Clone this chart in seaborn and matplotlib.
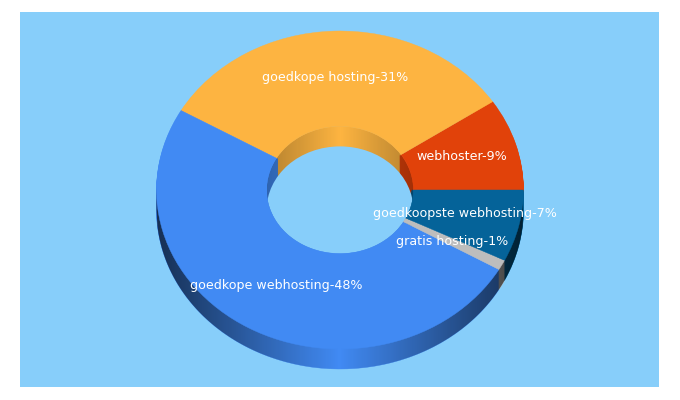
import numpy as np
import matplotlib
matplotlib.use("Agg")
import matplotlib.pyplot as plt
from matplotlib.patches import Ellipse, Polygon
import seaborn as sns

# --- data -----------------------------------------------------------------
categories = ["webhoster", "goedkope hosting", "goedkope webhosting",
              "gratis hosting", "goedkoopste webhosting"]
shares = [9, 31, 48, 1, 7]
slice_colors = ["#E1420A", "#FDB441", "#418AF3", "#BDBDBD", "#056399"]
# label anchor in reference pixels (centre x, centre y)
label_x = [461.5, 335.5, 276, 452.5, 465]
label_y = [156, 77, 285, 241, 214]

# --- geometry (reference pixels) --------------------------------------------
W, H = 680, 400
PLOT_L, PLOT_R, PLOT_T, PLOT_B = 20, 659, 12, 387
CX, CY, RX, RY = 340, 190, 183.5, 159
DEPTH = 20
HOLE = 0.40
BG = "#87CEFA"

sns.set_theme(style="white")
palette = sns.color_palette(slice_colors)

fig = plt.figure(figsize=(W / 100, H / 100), dpi=100, facecolor="white")
ax = fig.add_axes([PLOT_L / W, 1 - PLOT_B / H, (PLOT_R - PLOT_L) / W, (PLOT_B - PLOT_T) / H])


def px_x(x):
    return (x - CX) / RX


def px_y(y):
    return (CY - y) / RY


depth_u = DEPTH / RY


def draw_pie(radius, width, dy, zorder):
    wedges, _ = ax.pie(shares, colors=palette, radius=radius, center=(0, dy), startangle=0,
                       counterclock=True, frame=True,
                       wedgeprops=dict(width=width, zorder=zorder))
    for w in wedges:
        w.set_edgecolor(w.get_facecolor())
        w.set_linewidth(0.3)


# outer wall
for d in range(DEPTH, 0, -1):
    draw_pie(1.0, 0.05, -d / RY, 1)

# shading of outer wall
xs = np.linspace(-1, 1, 401)
alpha = 0.66 * np.abs(xs)
rgba = np.zeros((1, xs.size, 4))
rgba[0, :, 3] = alpha
im = ax.imshow(rgba, extent=(-1, 1, -1.2, 0.2), aspect="auto", zorder=2, interpolation="bilinear")
arc = -np.sqrt(1 - xs ** 2)
crescent = Polygon(np.vstack([np.c_[xs, arc + 0.02], np.c_[xs[::-1], arc[::-1] - depth_u]]),
                   closed=True, transform=ax.transData, facecolor="none", edgecolor="none")
im.set_clip_path(crescent)

# inner wall
for d in np.arange(DEPTH, -0.5, -0.5):
    draw_pie(HOLE, 0.008, -d / RY, 3)

xi = np.linspace(-HOLE, HOLE, 201)
rgba2 = np.zeros((1, xi.size, 4))
rgba2[0, :, 3] = 0.28 * np.abs(xi) / HOLE
im2 = ax.imshow(rgba2, extent=(-HOLE, HOLE, -HOLE, HOLE), aspect="auto", zorder=4, interpolation="bilinear")
hole_clip = Ellipse((0, 0), 2 * HOLE, 2 * HOLE, transform=ax.transData, facecolor="none", edgecolor="none")
im2.set_clip_path(hole_clip)

# see-through part of the hole
lens = Ellipse((0, -depth_u), 2 * HOLE, 2 * HOLE, facecolor=BG, edgecolor="none", zorder=5)
ax.add_patch(lens)
lens.set_clip_path(Ellipse((0, 0), 2 * HOLE, 2 * HOLE, transform=ax.transData))

# top surface
draw_pie(1.0, 1 - HOLE, 0, 6)

# labels
for name, pct, lx, ly in zip(categories, shares, label_x, label_y):
    ax.text(px_x(lx), px_y(ly), f"{name}-{pct}%", color="white", fontsize=9.1,
            family="DejaVu Sans", ha="center", va="center", zorder=8)

ax.set_aspect("auto")
ax.set_xlim(px_x(PLOT_L), px_x(PLOT_R))
ax.set_ylim(px_y(PLOT_B), px_y(PLOT_T))
ax.set_facecolor(BG)
ax.set_frame_on(True)
for s in ax.spines.values():
    s.set_visible(False)
ax.set_xticks([])
ax.set_yticks([])
fig.savefig("out.png", dpi=100, facecolor="white")
